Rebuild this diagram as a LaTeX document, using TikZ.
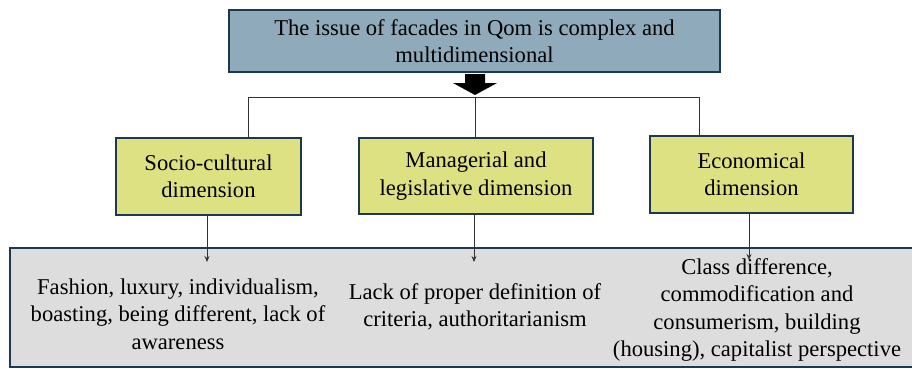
\documentclass[tikz,border=0pt]{standalone}
\usepackage{fontspec}
\setmainfont{Liberation Serif}
\usetikzlibrary{arrows.meta}
\definecolor{topfill}{RGB}{143,170,186}
\definecolor{yelfill}{RGB}{222,225,130}
\definecolor{bordc}{RGB}{30,56,80}
\definecolor{grayfill}{RGB}{221,221,221}
\begin{document}
\begin{tikzpicture}[x=1pt,y=-1pt,
  every node/.style={font=\rmfamily\fontsize{22.6}{27.5}\selectfont, align=center, inner sep=0pt},
  box/.style={draw=bordc, line width=2.6pt},
  conn/.style={draw=black!80, line width=0.8pt},
  arr/.style={conn, -{Stealth[length=6pt,width=5pt]}}]
\useasboundingbox (0,0) rectangle (912,369);
% top box
\draw[box, fill=topfill] (229,10) rectangle (720,72);
\node (top) at (474.5,41) {The issue of facades in Qom is complex and\\multidimensional};
% block arrow
\fill[black] (465,74) -- (485,74) -- (485,83) -- (497,83) -- (475,95) -- (453,83) -- (465,83) -- cycle;
\coordinate (hl) at (248,97);
\coordinate (hm) at (475,97);
\coordinate (hr) at (699,97);
\draw[conn] (hl) -- (hr);
% bottom box
\draw[draw=bordc, line width=1.8pt, fill=grayfill] (10,248) rectangle (930,367);
% dimension boxes
\draw[box, fill=yelfill] (116,138) rectangle (301,215);
\coordinate (s1top) at (248,138);
\coordinate (s1bot) at (207,215);
\node (soc) at (208.5,176.5) {Socio-cultural\\dimension};
\draw[box, fill=yelfill] (359,138) rectangle (593,214);
\coordinate (s2top) at (475,138);
\coordinate (s2bot) at (474,214);
\node (man) at (476,176) {Managerial and\\legislative dimension};
\draw[box, fill=yelfill] (650,136) rectangle (853,213);
\coordinate (s3top) at (699,136);
\coordinate (s3bot) at (749,213);
\node (eco) at (751.5,174.5) {Economical\\dimension};
\draw[conn] (hl) -- (s1top);
\draw[conn] (hm) -- (s2top);
\draw[conn] (hr) -- (s3top);
% texts
\node (t1) at (178,314) {Fashion, luxury, individualism,\\boasting, being different, lack of\\awareness};
\node (t2) at (475,307) {Lack of proper definition of\\criteria, authoritarianism};
\node (t3) at (757,310) {Class difference,\\commodification and\\consumerism, building\\(housing), capitalist perspective};
\coordinate (a1) at (207,262);
\coordinate (a2) at (474,262);
\coordinate (a3) at (749,260);
\draw[arr] (s1bot) -- (a1);
\draw[arr] (s2bot) -- (a2);
\draw[arr] (s3bot) -- (a3);
\end{tikzpicture}
\end{document}
